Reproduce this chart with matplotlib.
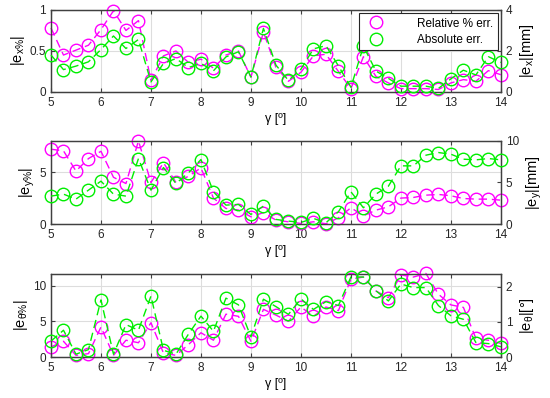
import matplotlib
matplotlib.use('Agg')
import matplotlib.pyplot as plt
from matplotlib.lines import Line2D
import numpy as np

plt.rcParams['font.family'] = ['Liberation Sans', 'DejaVu Sans']
plt.rcParams['mathtext.default'] = 'regular'
plt.rcParams['font.size'] = 8

# gamma values, 5 .. 14 step 0.25
gamma = [5 + 0.25 * i for i in range(37)]

# top panel: x error
ex_rel = [0.78, 0.45, 0.51, 0.57, 0.76, 0.99, 0.75, 0.87, 0.14, 0.44, 0.50, 0.36, 0.40,
          0.29, 0.45, 0.50, 0.18, 0.73, 0.30, 0.13, 0.24, 0.44, 0.46, 0.25, 0.04, 0.43,
          0.19, 0.11, 0.04, 0.04, 0.04, 0.03, 0.11, 0.15, 0.13, 0.26, 0.21]
ex_abs = [1.80, 1.09, 1.26, 1.47, 2.07, 2.73, 2.12, 2.56, 0.49, 1.39, 1.63, 1.19, 1.39,
          1.03, 1.71, 1.96, 0.73, 3.10, 1.31, 0.56, 1.11, 2.10, 2.26, 1.27, 0.23, 2.23,
          1.02, 0.66, 0.28, 0.28, 0.28, 0.17, 0.64, 1.06, 0.83, 1.72, 1.44]

# middle panel: y error
ey_rel = [7.2, 7.04, 5.1, 6.3, 7.0, 4.5, 3.9, 8.0, 4.0, 5.9, 4.0, 4.6, 5.4, 2.5, 1.5,
          1.35, 0.7, 1.1, 0.38, 0.22, 0.06, 0.22, 0.03, 0.6, 1.57, 0.8, 1.34, 1.66, 2.5,
          2.56, 2.78, 2.85, 2.72, 2.46, 2.4, 2.4, 2.3]
ey_abs = [3.36, 3.6, 3.0, 4.08, 5.16, 3.6, 3.36, 7.88, 4.08, 6.8, 4.88, 6.16, 7.76, 3.88,
          2.28, 2.36, 1.16, 2.16, 0.56, 0.36, 0.2, 0.68, 0.16, 1.48, 3.88, 1.96, 3.6,
          4.56, 7.0, 7.0, 8.28, 8.6, 8.4, 7.8, 7.72, 7.88, 7.72]

# bottom panel: theta error
et_rel = [1.4, 2.2, 0.23, 0.47, 4.2, 0.23, 2.35, 2.0, 4.8, 0.56, 0.23, 1.74, 3.4, 2.35,
          6.0, 5.7, 2.2, 6.67, 5.87, 5.0, 7.0, 5.7, 7.0, 6.5, 10.9, 11.2, 9.25, 8.3,
          11.5, 11.2, 11.7, 8.8, 7.3, 6.95, 2.6, 2.35, 1.9]
et_abs = [0.45, 0.76, 0.08, 0.21, 1.62, 0.08, 0.92, 0.76, 1.73, 0.19, 0.08, 0.65, 1.16,
          0.73, 1.67, 1.48, 0.57, 1.64, 1.43, 1.21, 1.65, 1.35, 1.57, 1.46, 2.27, 2.27,
          1.88, 1.59, 2.07, 1.97, 1.97, 1.46, 1.17, 1.07, 0.41, 0.38, 0.29]

MAG = '#ff00ff'
GRN = '#00ee00'
AXC = '#404040'

panels = [
    (ex_rel, ex_abs, r'|e$_{x\%}$|', r'|e$_x$|[mm]', (0, 1), [0, 0.5, 1], ['0', '0.5', '1'],
     (0, 4), [0, 2, 4]),
    (ey_rel, ey_abs, r'|e$_{y\%}$|', r'|e$_y$|[mm]', (0, 8), [0, 5], ['0', '5'],
     (0, 10), [0, 5, 10]),
    (et_rel, et_abs, r'|e$_{\theta\%}$|', r'|e$_{\theta}$|[$\degree$]', (0, 11.65), [0, 5, 10],
     ['0', '5', '10'], (0, 2.36), [0, 1, 2]),
]
positions = [(0.0927, 0.769, 0.818, 0.206),
             (0.0927, 0.437, 0.818, 0.209),
             (0.0927, 0.103, 0.818, 0.209)]

fig = plt.figure(figsize=(5.5, 3.98), dpi=100)

for i, (rel, ab, lab_l, lab_r, ylim_l, yt_l, ytl_l, ylim_r, yt_r) in enumerate(panels):
    ax = fig.add_axes(positions[i])
    ax2 = ax.twinx()
    ax.plot(gamma, rel, linestyle=(0, (6, 3.5)), color=MAG, marker='o', mfc='none',
            mec=MAG, ms=9, lw=1, clip_on=False, zorder=3)
    ax2.plot(gamma, ab, linestyle=(0, (6, 3.5)), color=GRN, marker='o', mfc='none',
             mec=GRN, ms=9, lw=1, clip_on=False, zorder=3)
    ax.set_xlim(5, 14)
    ax.set_ylim(*ylim_l)
    ax2.set_ylim(*ylim_r)
    ax.set_xticks(range(5, 15))
    ax.set_yticks(yt_l)
    ax.set_yticklabels(ytl_l)
    ax2.set_yticks(yt_r)
    ax.grid(True, color='#dddddd', lw=0.8)
    ax.set_axisbelow(True)
    ax.tick_params(direction='in', top=True, labelsize=8.5, length=3, colors=AXC,
                   labelcolor='#262626')
    ax2.tick_params(direction='in', labelsize=8.5, length=3, colors=AXC,
                    labelcolor='#262626')
    ax.set_ylabel(lab_l, fontsize=10.5, labelpad=2)
    ax2.set_ylabel(lab_r, fontsize=10.5, labelpad=4)
    ax.set_xlabel('γ [º]', fontsize=9, labelpad=3)
    for a in (ax, ax2):
        for s in a.spines.values():
            s.set_color(AXC)
            s.set_linewidth(0.9)
    if i == 0:
        handles = [Line2D([], [], ls='none', marker='o', mfc='none', mec=MAG, ms=9),
                   Line2D([], [], ls='none', marker='o', mfc='none', mec=GRN, ms=9)]
        leg = ax2.legend(handles, ['Relative % err.', 'Absolute err.'], loc='upper right',
                         fontsize=8.5, fancybox=False, framealpha=1, edgecolor='#262626',
                         borderaxespad=0.25, handletextpad=2.5, labelspacing=0.35)
        leg.get_frame().set_linewidth(0.8)

fig.savefig('out.png', dpi=100)
